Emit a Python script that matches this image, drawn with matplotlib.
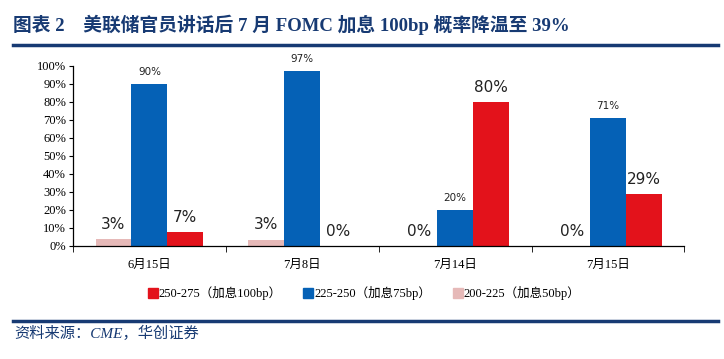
import matplotlib
matplotlib.use('Agg')
import matplotlib.pyplot as plt
import numpy as np
from matplotlib.patches import Patch

plt.rcParams['font.family'] = ['Liberation Serif', 'Noto Sans CJK SC']

NAVY = '#173a73'
RED = '#e3121b'
BLUE = '#0561b6'
PINK = '#e6b9b8'

dates = ['6月15日', '7月8日', '7月14日', '7月15日']
series = ['200-225（加息50bp）', '225-250（加息75bp）', '250-275（加息100bp）']
p50 = [3.8, 3.5, 0, 0]
p75 = [90, 97, 20, 71]
p100 = [7.8, 0, 80, 29]
lab50 = ['3%', '3%', '0%', '0%']
lab75 = ['90%', '97%', '20%', '71%']
lab100 = ['7%', '0%', '80%', '29%']
yticks = np.arange(0, 101, 10)

fig = plt.figure(figsize=(7.24, 3.59), dpi=100)
ax = fig.add_axes([0.1008, 0.3148, 0.8445, 0.5014])

x = np.arange(len(dates))
w = 0.235
groups = [(p50, lab50, PINK, -w, 11), (p75, lab75, BLUE, 0, 7.5), (p100, lab100, RED, w, 11)]
for vals, labs, col, off, fs in groups:
    ax.bar(x + off, vals, width=w, color=col)
    for xi, v, t in zip(x + off, vals, labs):
        ax.text(xi, v + 4, t, ha='center', va='bottom', fontsize=fs,
                family=['DejaVu Sans'], color='#222222')

ax.set_xlim(-0.5, len(dates) - 0.5)
ax.set_ylim(0, 100)
ax.set_yticks(yticks)
ax.set_yticklabels([f'{t}%' for t in yticks], fontsize=9)
ax.set_xticks(x)
ax.set_xticklabels(dates, fontsize=9)
ax.set_xticks(np.arange(-0.5, len(dates)), minor=True)
ax.tick_params(axis='x', which='major', length=0, pad=9)
ax.tick_params(axis='x', which='minor', length=4, direction='out')
ax.tick_params(axis='y', length=3, direction='out', pad=2)
for s in ['top', 'right']:
    ax.spines[s].set_visible(False)
for s in ['left', 'bottom']:
    ax.spines[s].set_linewidth(0.9)

handles = [Patch(color=RED, label=series[2]), Patch(color=BLUE, label=series[1]),
           Patch(color=PINK, label=series[0])]
fig.legend(handles=handles, loc='center', bbox_to_anchor=(0.503, 0.183), ncol=3,
           frameon=False, fontsize=9, handlelength=0.8, handleheight=0.8,
           handletextpad=0.1, columnspacing=1.7)

fig.text(0.018, 0.93, '图表 2　美联储官员讲话后 7 月 FOMC 加息 100bp 概率降温至 39%',
         fontsize=13.5, fontweight='bold', color=NAVY,
         family=['Liberation Serif', 'Noto Sans CJK SC'], va='center')
fig.add_artist(plt.Line2D([0.018, 0.992], [0.874, 0.874], color=NAVY, lw=2.5))
fig.add_artist(plt.Line2D([0.018, 0.992], [0.106, 0.106], color=NAVY, lw=2.5))
fig.text(0.02, 0.072, '资料来源：CME，华创证券', fontsize=11, style='italic',
         color=NAVY, va='center')

fig.savefig('out.png', dpi=100)
